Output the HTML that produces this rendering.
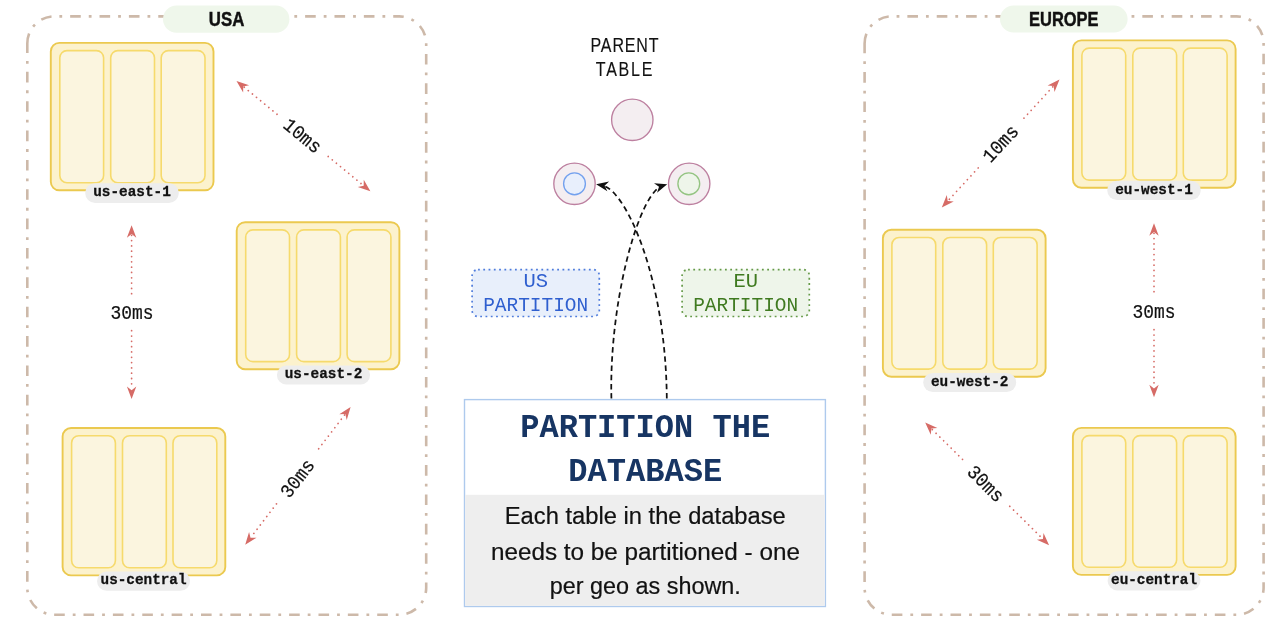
<!DOCTYPE html>
<html><head><meta charset="utf-8"><style>
html,body{margin:0;padding:0;background:#fff;width:1280px;height:638px;overflow:hidden}
svg{display:block;will-change:transform}
</style></head><body>
<svg width="1280" height="638" viewBox="0 0 1280 638">
<path d="M27.3 43.4 A27 27 0 0 1 54.3 16.4 H399.2 A27 27 0 0 1 426.2 43.4 V587.6999999999999 A27 27 0 0 1 399.2 614.6999999999999 H54.3 A27 27 0 0 1 27.3 587.6999999999999 Z" fill="none" stroke="#cdb9a9" stroke-width="2.6" stroke-dasharray="10.62 7.98 2.79 7.98" stroke-dashoffset="0.63"/>
<path d="M864.6 43.4 A27 27 0 0 1 891.6 16.4 H1236.6 A27 27 0 0 1 1263.6 43.4 V587.6999999999999 A27 27 0 0 1 1236.6 614.6999999999999 H891.6 A27 27 0 0 1 864.6 587.6999999999999 Z" fill="none" stroke="#cdb9a9" stroke-width="2.6" stroke-dasharray="10.62 7.98 2.79 7.98" stroke-dashoffset="0.73"/>
<rect x="163" y="5.6" width="126.4" height="27.2" rx="13.6" fill="#eff7eb"/>
<text x="226.6" y="25.6" font-family='"Liberation Sans", sans-serif' font-weight="bold" font-size="19.8" fill="#111" stroke="#111" stroke-width="0.45" text-anchor="middle" textLength="35.5" lengthAdjust="spacingAndGlyphs">USA</text>
<rect x="1000" y="5.4" width="127.6" height="27.2" rx="13.6" fill="#eff7eb"/>
<text x="1063.8" y="25.6" font-family='"Liberation Sans", sans-serif' font-weight="bold" font-size="19.8" fill="#111" stroke="#111" stroke-width="0.45" text-anchor="middle" textLength="69.5" lengthAdjust="spacingAndGlyphs">EUROPE</text>
<rect x="50.8" y="42.9" width="162.7" height="147.4" rx="8.5" fill="#fcf2cd" stroke="#ebc94f" stroke-width="1.9"/>
<rect x="59.80" y="50.60" width="43.8" height="132.10" rx="7.2" fill="#fbf5df" stroke="#f6da6c" stroke-width="1.6"/>
<rect x="110.70" y="50.60" width="43.8" height="132.10" rx="7.2" fill="#fbf5df" stroke="#f6da6c" stroke-width="1.6"/>
<rect x="161.20" y="50.60" width="43.8" height="132.10" rx="7.2" fill="#fbf5df" stroke="#f6da6c" stroke-width="1.6"/>
<rect x="85.2" y="183.2" width="93.6" height="19.7" rx="9.85" fill="#ededed"/>
<text x="132.00" y="196.35" font-family='"Liberation Mono", monospace' font-weight="bold" font-size="15" fill="#111" stroke="#111" stroke-width="0.3" text-anchor="middle" textLength="77.55" lengthAdjust="spacingAndGlyphs">us-east-1</text>
<rect x="236.7" y="222.2" width="162.7" height="147" rx="8.5" fill="#fcf2cd" stroke="#ebc94f" stroke-width="1.9"/>
<rect x="245.70" y="229.90" width="43.8" height="131.70" rx="7.2" fill="#fbf5df" stroke="#f6da6c" stroke-width="1.6"/>
<rect x="296.60" y="229.90" width="43.8" height="131.70" rx="7.2" fill="#fbf5df" stroke="#f6da6c" stroke-width="1.6"/>
<rect x="347.10" y="229.90" width="43.8" height="131.70" rx="7.2" fill="#fbf5df" stroke="#f6da6c" stroke-width="1.6"/>
<rect x="276.9" y="365.5" width="93.2" height="19.1" rx="9.55" fill="#ededed"/>
<text x="323.50" y="378.35" font-family='"Liberation Mono", monospace' font-weight="bold" font-size="15" fill="#111" stroke="#111" stroke-width="0.3" text-anchor="middle" textLength="77.55" lengthAdjust="spacingAndGlyphs">us-east-2</text>
<rect x="62.6" y="428.0" width="162.7" height="147.4" rx="8.5" fill="#fcf2cd" stroke="#ebc94f" stroke-width="1.9"/>
<rect x="71.60" y="435.70" width="43.8" height="132.10" rx="7.2" fill="#fbf5df" stroke="#f6da6c" stroke-width="1.6"/>
<rect x="122.50" y="435.70" width="43.8" height="132.10" rx="7.2" fill="#fbf5df" stroke="#f6da6c" stroke-width="1.6"/>
<rect x="173.00" y="435.70" width="43.8" height="132.10" rx="7.2" fill="#fbf5df" stroke="#f6da6c" stroke-width="1.6"/>
<rect x="97" y="571.4" width="93.1" height="19.4" rx="9.7" fill="#ededed"/>
<text x="143.55" y="584.40" font-family='"Liberation Mono", monospace' font-weight="bold" font-size="15" fill="#111" stroke="#111" stroke-width="0.3" text-anchor="middle" textLength="86.00" lengthAdjust="spacingAndGlyphs">us-central</text>
<rect x="1072.9" y="40.4" width="162.7" height="147.3" rx="8.5" fill="#fcf2cd" stroke="#ebc94f" stroke-width="1.9"/>
<rect x="1081.90" y="48.10" width="43.8" height="132.00" rx="7.2" fill="#fbf5df" stroke="#f6da6c" stroke-width="1.6"/>
<rect x="1132.80" y="48.10" width="43.8" height="132.00" rx="7.2" fill="#fbf5df" stroke="#f6da6c" stroke-width="1.6"/>
<rect x="1183.30" y="48.10" width="43.8" height="132.00" rx="7.2" fill="#fbf5df" stroke="#f6da6c" stroke-width="1.6"/>
<rect x="1107.3" y="180.7" width="93.4" height="19.4" rx="9.7" fill="#ededed"/>
<text x="1154.00" y="193.70" font-family='"Liberation Mono", monospace' font-weight="bold" font-size="15" fill="#111" stroke="#111" stroke-width="0.3" text-anchor="middle" textLength="77.55" lengthAdjust="spacingAndGlyphs">eu-west-1</text>
<rect x="882.9" y="229.8" width="162.7" height="146.9" rx="8.5" fill="#fcf2cd" stroke="#ebc94f" stroke-width="1.9"/>
<rect x="891.90" y="237.50" width="43.8" height="131.60" rx="7.2" fill="#fbf5df" stroke="#f6da6c" stroke-width="1.6"/>
<rect x="942.80" y="237.50" width="43.8" height="131.60" rx="7.2" fill="#fbf5df" stroke="#f6da6c" stroke-width="1.6"/>
<rect x="993.30" y="237.50" width="43.8" height="131.60" rx="7.2" fill="#fbf5df" stroke="#f6da6c" stroke-width="1.6"/>
<rect x="923.2" y="372.9" width="93" height="19.2" rx="9.6" fill="#ededed"/>
<text x="969.70" y="385.80" font-family='"Liberation Mono", monospace' font-weight="bold" font-size="15" fill="#111" stroke="#111" stroke-width="0.3" text-anchor="middle" textLength="77.55" lengthAdjust="spacingAndGlyphs">eu-west-2</text>
<rect x="1072.9" y="427.9" width="162.7" height="147" rx="8.5" fill="#fcf2cd" stroke="#ebc94f" stroke-width="1.9"/>
<rect x="1081.90" y="435.60" width="43.8" height="131.70" rx="7.2" fill="#fbf5df" stroke="#f6da6c" stroke-width="1.6"/>
<rect x="1132.80" y="435.60" width="43.8" height="131.70" rx="7.2" fill="#fbf5df" stroke="#f6da6c" stroke-width="1.6"/>
<rect x="1183.30" y="435.60" width="43.8" height="131.70" rx="7.2" fill="#fbf5df" stroke="#f6da6c" stroke-width="1.6"/>
<rect x="1107.6" y="571.2" width="92.9" height="19.2" rx="9.6" fill="#ededed"/>
<text x="1154.05" y="584.10" font-family='"Liberation Mono", monospace' font-weight="bold" font-size="15" fill="#111" stroke="#111" stroke-width="0.3" text-anchor="middle" textLength="86.00" lengthAdjust="spacingAndGlyphs">eu-central</text>
<line x1="244.22" y1="87.26" x2="277.30" y2="114.54" stroke="#d66b66" stroke-width="1.75" stroke-linecap="round" stroke-dasharray="0.01 5.3"/>
<line x1="328.22" y1="156.52" x2="362.68" y2="184.94" stroke="#d66b66" stroke-width="1.75" stroke-linecap="round" stroke-dasharray="0.01 5.3"/>
<path d="M236.50 80.90 L243.15 92.48 L243.21 86.43 L249.13 85.23 Z" fill="#d66b66"/>
<path d="M370.40 191.30 L363.75 179.72 L363.69 185.77 L357.77 186.97 Z" fill="#d66b66"/>
<text x="302.7" y="142.03" transform="rotate(39.51 302.7 135.6)" font-family='"Liberation Mono", monospace' font-size="19.5" fill="#111" stroke="#111" stroke-width="0.2" text-anchor="middle" textLength="43" lengthAdjust="spacingAndGlyphs">10ms</text>
<line x1="131.60" y1="235.30" x2="131.60" y2="294.70" stroke="#d66b66" stroke-width="1.75" stroke-linecap="round" stroke-dasharray="0.01 5.3"/>
<line x1="131.60" y1="330.70" x2="131.60" y2="389.00" stroke="#d66b66" stroke-width="1.75" stroke-linecap="round" stroke-dasharray="0.01 5.3"/>
<path d="M131.60 225.30 L126.90 237.80 L131.60 234.00 L136.30 237.80 Z" fill="#d66b66"/>
<path d="M131.60 399.00 L136.30 386.50 L131.60 390.30 L126.90 386.50 Z" fill="#d66b66"/>
<text x="131.9" y="319.13" transform="rotate(0.00 131.9 312.7)" font-family='"Liberation Mono", monospace' font-size="19.5" fill="#111" stroke="#111" stroke-width="0.2" text-anchor="middle" textLength="43" lengthAdjust="spacingAndGlyphs">30ms</text>
<line x1="344.52" y1="415.04" x2="316.59" y2="451.50" stroke="#d66b66" stroke-width="1.75" stroke-linecap="round" stroke-dasharray="0.01 5.3"/>
<line x1="276.45" y1="503.90" x2="251.28" y2="536.76" stroke="#d66b66" stroke-width="1.75" stroke-linecap="round" stroke-dasharray="0.01 5.3"/>
<path d="M350.60 407.10 L339.27 414.17 L345.31 414.01 L346.73 419.88 Z" fill="#d66b66"/>
<path d="M245.20 544.70 L256.53 537.63 L250.49 537.79 L249.07 531.92 Z" fill="#d66b66"/>
<text x="297.3" y="484.73" transform="rotate(-52.55 297.3 478.3)" font-family='"Liberation Mono", monospace' font-size="19.5" fill="#111" stroke="#111" stroke-width="0.2" text-anchor="middle" textLength="43" lengthAdjust="spacingAndGlyphs">30ms</text>
<line x1="1052.73" y1="86.86" x2="1022.82" y2="119.39" stroke="#d66b66" stroke-width="1.75" stroke-linecap="round" stroke-dasharray="0.01 5.3"/>
<line x1="978.15" y1="167.97" x2="948.57" y2="200.14" stroke="#d66b66" stroke-width="1.75" stroke-linecap="round" stroke-dasharray="0.01 5.3"/>
<path d="M1059.50 79.50 L1047.58 85.52 L1053.61 85.90 L1054.50 91.88 Z" fill="#d66b66"/>
<path d="M941.80 207.50 L953.72 201.48 L947.69 201.10 L946.80 195.12 Z" fill="#d66b66"/>
<text x="1000.4" y="150.03" transform="rotate(-47.40 1000.4 143.6)" font-family='"Liberation Mono", monospace' font-size="19.5" fill="#111" stroke="#111" stroke-width="0.2" text-anchor="middle" textLength="43" lengthAdjust="spacingAndGlyphs">10ms</text>
<line x1="1154.00" y1="233.30" x2="1154.00" y2="293.70" stroke="#d66b66" stroke-width="1.75" stroke-linecap="round" stroke-dasharray="0.01 5.3"/>
<line x1="1154.00" y1="329.70" x2="1154.00" y2="387.30" stroke="#d66b66" stroke-width="1.75" stroke-linecap="round" stroke-dasharray="0.01 5.3"/>
<path d="M1154.00 223.30 L1149.30 235.80 L1154.00 232.00 L1158.70 235.80 Z" fill="#d66b66"/>
<path d="M1154.00 397.30 L1158.70 384.80 L1154.00 388.60 L1149.30 384.80 Z" fill="#d66b66"/>
<text x="1154" y="318.13" transform="rotate(0.00 1154 311.7)" font-family='"Liberation Mono", monospace' font-size="19.5" fill="#111" stroke="#111" stroke-width="0.2" text-anchor="middle" textLength="43" lengthAdjust="spacingAndGlyphs">30ms</text>
<line x1="932.31" y1="429.54" x2="962.90" y2="459.83" stroke="#d66b66" stroke-width="1.75" stroke-linecap="round" stroke-dasharray="0.01 5.3"/>
<line x1="1009.79" y1="506.27" x2="1041.99" y2="538.16" stroke="#d66b66" stroke-width="1.75" stroke-linecap="round" stroke-dasharray="0.01 5.3"/>
<path d="M925.20 422.50 L930.77 434.64 L931.38 428.62 L937.39 427.96 Z" fill="#d66b66"/>
<path d="M1049.10 545.20 L1043.53 533.06 L1042.92 539.08 L1036.91 539.74 Z" fill="#d66b66"/>
<text x="985.8" y="490.03" transform="rotate(44.72 985.8 483.6)" font-family='"Liberation Mono", monospace' font-size="19.5" fill="#111" stroke="#111" stroke-width="0.2" text-anchor="middle" textLength="43" lengthAdjust="spacingAndGlyphs">30ms</text>
<g transform="translate(624.5 0) scale(0.8 1)"><text font-family='"Liberation Sans", sans-serif' font-size="20" fill="#111" stroke="#111" stroke-width="0.15" text-anchor="middle"><tspan x="0" y="52.1" textLength="85" lengthAdjust="spacing">PARENT</tspan><tspan x="-0.5" y="76.3" textLength="70.6" lengthAdjust="spacing">TABLE</tspan></text></g>
<circle cx="632.3" cy="119.8" r="20.7" fill="#f4eef1" stroke="#bd80a0" stroke-width="1.35"/>
<circle cx="574.5" cy="183.8" r="20.7" fill="#f4eef1" stroke="#bd80a0" stroke-width="1.35"/>
<circle cx="574.5" cy="183.8" r="10.9" fill="#e8effc" stroke="#73a1ee" stroke-width="1.35"/>
<circle cx="689.2" cy="183.8" r="20.7" fill="#f4eef1" stroke="#bd80a0" stroke-width="1.35"/>
<circle cx="688.8" cy="183.8" r="10.9" fill="#eef5ea" stroke="#94c482" stroke-width="1.35"/>
<rect x="472.1" y="269.6" width="127.2" height="46.9" rx="6" fill="#e8effb" stroke="#4f7cdc" stroke-width="1.7" stroke-dasharray="1.8 3.48" stroke-dashoffset="0.1"/>
<text font-family='"Liberation Mono", monospace' font-size="20.5" fill="#2f5fcf" text-anchor="middle"><tspan x="535.7" y="287.3">US</tspan><tspan x="535.7" y="311.4" textLength="105" lengthAdjust="spacingAndGlyphs">PARTITION</tspan></text>
<rect x="682.1" y="269.6" width="127.2" height="46.9" rx="6" fill="#eef5ea" stroke="#659a48" stroke-width="1.7" stroke-dasharray="1.8 3.48" stroke-dashoffset="0.1"/>
<text font-family='"Liberation Mono", monospace' font-size="20.5" fill="#3f7a20" text-anchor="middle"><tspan x="745.7" y="287.3">EU</tspan><tspan x="745.7" y="311.4" textLength="105" lengthAdjust="spacingAndGlyphs">PARTITION</tspan></text>
<path d="M611.4 398.6 C609.03 307.16 635.72 204.74 658.8 187.4" fill="none" stroke="#111" stroke-width="1.75" stroke-dasharray="5.5 3.7"/>
<path d="M666.8 398.6 C665.82 278.43 626.54 192.76 603.8 185.9" fill="none" stroke="#111" stroke-width="1.75" stroke-dasharray="5.5 3.7"/>
<path d="M667.20 184.20 L653.99 183.34 L659.02 186.86 L657.02 192.66 Z" fill="#111"/>
<path d="M596.10 184.15 L607.34 191.15 L604.56 185.67 L609.07 181.51 Z" fill="#111"/>
<rect x="464.5" y="399.6" width="360.9" height="206.9" fill="#fff" stroke="#aecaed" stroke-width="1.4"/>
<rect x="465.2" y="494.8" width="359.5" height="111" fill="#eeeeee"/>
<text font-family='"Liberation Mono", monospace' font-weight="bold" font-size="34" fill="#173563" text-anchor="middle"><tspan x="645.2" y="436.8" textLength="250" lengthAdjust="spacingAndGlyphs">PARTITION THE</tspan><tspan x="645.3" y="480.9" textLength="154" lengthAdjust="spacingAndGlyphs">DATABASE</tspan></text>
<text font-family='"Liberation Sans", sans-serif' font-size="23" fill="#111" stroke="#111" stroke-width="0.2" text-anchor="middle"><tspan x="645.3" y="524.2" textLength="281" lengthAdjust="spacingAndGlyphs">Each table in the database</tspan><tspan x="645.4" y="559.5" textLength="309" lengthAdjust="spacingAndGlyphs">needs to be partitioned - one</tspan><tspan x="645.3" y="594.1" textLength="191" lengthAdjust="spacingAndGlyphs">per geo as shown.</tspan></text>
</svg>
</body></html>
